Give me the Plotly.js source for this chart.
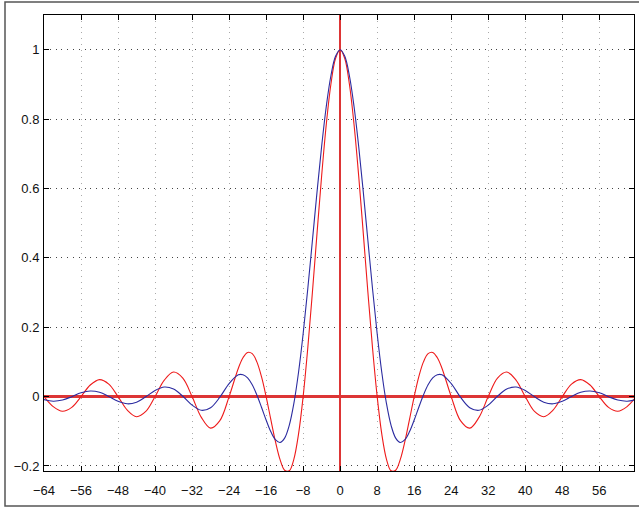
<!DOCTYPE html>
<html>
<head>
<meta charset="utf-8">
<script src="https://cdn.plot.ly/plotly-3.0.1.min.js"></script>
<style>html,body{margin:0;padding:0;background:#fff;}#chart{width:639px;height:511px;}</style>
</head>
<body>
<div id="chart"></div>
<script>
// sample positions (right half; the curves are mirrored to the left)
const xHalf = [0,1,2,3,4,5,6,7,8,9,10,11,12,13,14,15,16,17,18,19,20,21,22,24,26,28,30,32,34,36,38,40,42,44,46,48,50,52,54,56,58,60,62,64];
// red curve values
const redHalf = [1.0,0.9745,0.9003,0.7842,0.6366,0.4705,0.3001,0.1392,0.0,-0.1083,-0.1801,-0.2139,-0.2122,-0.1810,-0.1286,-0.0650,0.0,
  0.0573,0.1000,0.1238,0.1273,0.1120,0.0819,0.0,-0.0693,-0.0910,-0.0600,0.0,0.0530,0.0707,0.0474,0.0,-0.0429,-0.0579,-0.0391,0.0,0.0360,0.0490,0.0334,0.0,-0.0311,-0.0424,-0.0290,0.0];
// blue curve values
const blueHalf = [1.0,0.9809,0.9249,0.8363,0.7217,0.5896,0.4492,0.3102,0.1812,0.0696,-0.0193,-0.0829,-0.1196,-0.1322,-0.1242,-0.1008,-0.0675,
  -0.0306,0.0045,0.0339,0.0538,0.0630,0.0629,0.0375,-0.0018,-0.0320,-0.0395,-0.0246,0.0009,0.0218,0.0277,0.0177,-0.0005,-0.0161,-0.0208,-0.0135,0.0004,0.0125,0.0163,0.0108,-0.0002,-0.0100,-0.0133,-0.0088];
const xTicks = [-64,-56,-48,-40,-32,-24,-16,-8,0,8,16,24,32,40,48,56];
const yTicks = [-0.2,0,0.2,0.4,0.6,0.8,1];

function mirror(xs, ys){
  const X=[],Y=[];
  for(let i=xs.length-1;i>0;i--){X.push(-xs[i]);Y.push(ys[i]);}
  for(let i=0;i<xs.length;i++){X.push(xs[i]);Y.push(ys[i]);}
  return [X,Y];
}
const [xr, yr] = mirror(xHalf, redHalf);
const [xb, yb] = mirror(xHalf, blueHalf);

const traces = [
  {x:xr, y:yr, type:'scatter', mode:'lines', line:{color:'#ee1a1a', width:1.1, shape:'spline', smoothing:1}, hoverinfo:'skip'},
  {x:xb, y:yb, type:'scatter', mode:'lines', line:{color:'#2b2ba0', width:1.1, shape:'spline', smoothing:1}, hoverinfo:'skip'}
];

const fnt = {family:'"Liberation Sans", Arial, Helvetica, sans-serif', size:13, color:'#111'};
const layout = {
  width:639, height:511,
  margin:{l:44, r:5, t:15, b:40},
  paper_bgcolor:'#fff', plot_bgcolor:'#fff',
  showlegend:false,
  font:fnt,
  xaxis:{
    range:[-64,63.5], tickvals:xTicks, ticks:'inside', ticklen:5, tickcolor:'#000',
    showline:true, linecolor:'#000', linewidth:1, mirror:'allticks',
    showgrid:true, gridcolor:'#aaaaaa', gridwidth:1, griddash:'1px,4.8px',
    zeroline:true, zerolinecolor:'#dd3535', zerolinewidth:2.5,
    tickfont:fnt, ticklabelstandoff:7, fixedrange:true
  },
  yaxis:{
    range:[-0.2145,1.1], tickvals:yTicks, ticks:'inside', ticklen:5, tickcolor:'#000',
    showline:true, linecolor:'#000', linewidth:1, mirror:'allticks',
    showgrid:true, gridcolor:'#444444', gridwidth:1, griddash:'1px,4.8px',
    zeroline:true, zerolinecolor:'#dd3535', zerolinewidth:2.5,
    tickfont:fnt, ticklabelstandoff:1, fixedrange:true
  },
  shapes:[
    {type:'rect', xref:'paper', yref:'paper', x0:-0.0661, x1:1.02, y0:-0.0768, y1:1.0285,
     line:{color:'#555', width:1.5}, fillcolor:'rgba(0,0,0,0)', layer:'below'}
  ]
};
Plotly.newPlot('chart', traces, layout, {staticPlot:true, displayModeBar:false});
</script>
</body>
</html>
